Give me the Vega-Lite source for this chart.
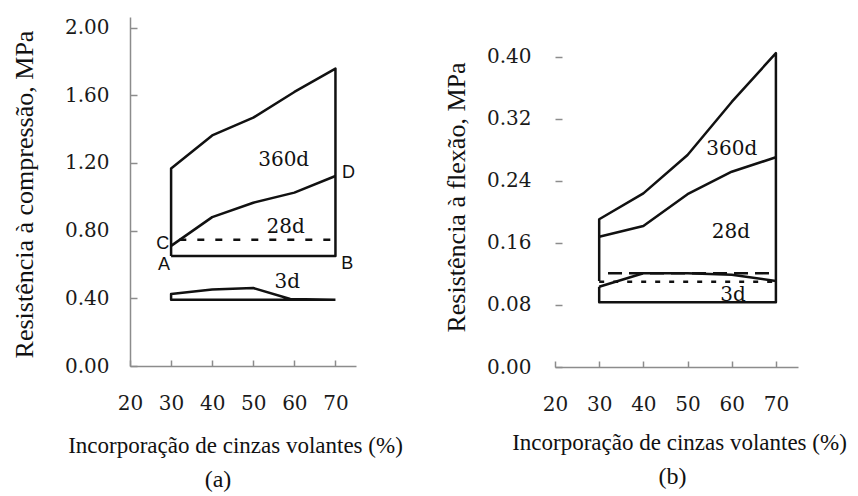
{
  "$schema": "https://vega.github.io/schema/vega-lite/v6.json",
  "background": "white",
  "padding": {"left": 10, "top": 17, "right": 5, "bottom": 5},
  "bounds": "flush",
  "spacing": 199,
  "config": {
    "view": {"stroke": null},
    "axis": {
      "grid": false,
      "labelFlush": false,
      "labelOverlap": false,
      "domainColor": "#8c8c8c",
      "domainWidth": 1.5,
      "tickColor": "#8c8c8c",
      "tickWidth": 1.5,
      "labelFont": "DejaVu Serif",
      "labelFontSize": 20,
      "labelColor": "#1a1a1a",
      "titleFont": "Liberation Serif",
      "titleFontWeight": "normal",
      "titleColor": "#111111"
    },
    "axisX": {"tickSize": -6, "labelPadding": 33, "titleFontSize": 23, "titleBaseline": "middle"},
    "axisY": {"tickSize": -7, "labelPadding": 28, "titleFontSize": 26, "titleBaseline": "middle"},
    "title": {"font": "Liberation Serif", "fontSize": 24, "fontWeight": "normal", "color": "#111111", "orient": "bottom"}
  },
  "datasets": {
    "a_lines": [
      {"seg": "box360", "style": "solid", "i": 0, "x": 30, "y": 0.65},
      {"seg": "box360", "style": "solid", "i": 1, "x": 30, "y": 1.167},
      {"seg": "box360", "style": "solid", "i": 2, "x": 40, "y": 1.363},
      {"seg": "box360", "style": "solid", "i": 3, "x": 50, "y": 1.468},
      {"seg": "box360", "style": "solid", "i": 4, "x": 60, "y": 1.62},
      {"seg": "box360", "style": "solid", "i": 5, "x": 70, "y": 1.758},
      {"seg": "box360", "style": "solid", "i": 6, "x": 70, "y": 0.65},
      {"seg": "box360", "style": "solid", "i": 7, "x": 30, "y": 0.65},
      {"seg": "c28", "style": "solid", "i": 0, "x": 30, "y": 0.71},
      {"seg": "c28", "style": "solid", "i": 1, "x": 40, "y": 0.88},
      {"seg": "c28", "style": "solid", "i": 2, "x": 50, "y": 0.965},
      {"seg": "c28", "style": "solid", "i": 3, "x": 60, "y": 1.025},
      {"seg": "c28", "style": "solid", "i": 4, "x": 70, "y": 1.123},
      {"seg": "d28", "style": "dash", "i": 0, "x": 32, "y": 0.747},
      {"seg": "d28", "style": "dash", "i": 1, "x": 70, "y": 0.747},
      {"seg": "s3", "style": "solid", "i": 0, "x": 70, "y": 0.392},
      {"seg": "s3", "style": "solid", "i": 1, "x": 30, "y": 0.392},
      {"seg": "s3", "style": "solid", "i": 2, "x": 30, "y": 0.425},
      {"seg": "s3", "style": "solid", "i": 3, "x": 40, "y": 0.452},
      {"seg": "s3", "style": "solid", "i": 4, "x": 50, "y": 0.461},
      {"seg": "s3", "style": "solid", "i": 5, "x": 59, "y": 0.396},
      {"seg": "s3", "style": "solid", "i": 6, "x": 70, "y": 0.392}
    ],
    "a_labels": [
      {"label": "360d", "kind": "age", "x": 57.4, "y": 1.216},
      {"label": "28d", "kind": "age", "x": 57.9, "y": 0.82},
      {"label": "3d", "kind": "age", "x": 58.3, "y": 0.495},
      {"label": "D", "kind": "point", "x": 73.2, "y": 1.139},
      {"label": "C", "kind": "point", "x": 28.0, "y": 0.719},
      {"label": "A", "kind": "point", "x": 28.3, "y": 0.595},
      {"label": "B", "kind": "point", "x": 72.9, "y": 0.601}
    ],
    "b_lines": [
      {"seg": "box", "style": "solid", "i": 0, "x": 30, "y": 0.111},
      {"seg": "box", "style": "solid", "i": 1, "x": 30, "y": 0.1906},
      {"seg": "box", "style": "solid", "i": 2, "x": 40, "y": 0.224},
      {"seg": "box", "style": "solid", "i": 3, "x": 50, "y": 0.2735},
      {"seg": "box", "style": "solid", "i": 4, "x": 60, "y": 0.342},
      {"seg": "box", "style": "solid", "i": 5, "x": 70, "y": 0.405},
      {"seg": "box", "style": "solid", "i": 6, "x": 70, "y": 0.0835},
      {"seg": "box", "style": "solid", "i": 7, "x": 30, "y": 0.0835},
      {"seg": "box", "style": "solid", "i": 8, "x": 30, "y": 0.1036},
      {"seg": "c28", "style": "solid", "i": 0, "x": 30, "y": 0.168},
      {"seg": "c28", "style": "solid", "i": 1, "x": 40, "y": 0.182},
      {"seg": "c28", "style": "solid", "i": 2, "x": 50, "y": 0.223},
      {"seg": "c28", "style": "solid", "i": 3, "x": 60, "y": 0.252},
      {"seg": "c28", "style": "solid", "i": 4, "x": 70, "y": 0.2706},
      {"seg": "s3", "style": "solid", "i": 0, "x": 30, "y": 0.1036},
      {"seg": "s3", "style": "solid", "i": 1, "x": 40, "y": 0.121},
      {"seg": "s3", "style": "solid", "i": 2, "x": 50, "y": 0.121},
      {"seg": "s3", "style": "solid", "i": 3, "x": 60, "y": 0.119},
      {"seg": "s3", "style": "solid", "i": 4, "x": 70, "y": 0.111},
      {"seg": "long", "style": "long", "i": 0, "x": 32, "y": 0.121},
      {"seg": "long", "style": "long", "i": 1, "x": 70, "y": 0.121},
      {"seg": "dot", "style": "dot", "i": 0, "x": 30, "y": 0.110},
      {"seg": "dot", "style": "dot", "i": 1, "x": 70, "y": 0.110}
    ],
    "b_labels": [
      {"label": "360d", "x": 60.0, "y": 0.281},
      {"label": "28d", "x": 59.8, "y": 0.174},
      {"label": "3d", "x": 60.3, "y": 0.093}
    ]
  },
  "hconcat": [
    {
      "width": 226,
      "height": 349,
      "title": {"text": "(a)", "dx": -25, "offset": 11},
      "layer": [
        {
          "data": {"name": "a_lines"},
          "transform": [{"filter": "datum.style === 'solid'"}],
          "mark": {"type": "line", "color": "#111111", "strokeWidth": 2.5, "strokeJoin": "round"},
          "encoding": {
            "x": {
              "field": "x", "type": "quantitative",
              "scale": {"domain": [20, 75], "nice": false, "zero": false},
              "axis": {"values": [20, 30, 40, 50, 60, 70], "title": "Incorporação de cinzas volantes (%)", "titleX": 105, "titleY": 79}
            },
            "y": {
              "field": "y", "type": "quantitative",
              "scale": {"domain": [0, 2.063], "nice": false},
              "axis": {"values": [0, 0.4, 0.8, 1.2, 1.6, 2.0], "format": ".2f", "title": "Resistência à compressão, MPa", "titleX": -106, "titleY": 177}
            },
            "detail": {"field": "seg"},
            "order": {"field": "i"}
          }
        },
        {
          "data": {"name": "a_lines"},
          "transform": [{"filter": "datum.style === 'dash'"}],
          "mark": {"type": "line", "color": "#111111", "strokeWidth": 2.5, "strokeDash": [7, 11]},
          "encoding": {
            "x": {"field": "x", "type": "quantitative"},
            "y": {"field": "y", "type": "quantitative"},
            "detail": {"field": "seg"},
            "order": {"field": "i"}
          }
        },
        {
          "data": {"name": "a_labels"},
          "transform": [{"filter": "datum.kind === 'age'"}],
          "mark": {"type": "text", "font": "DejaVu Serif", "fontSize": 20, "color": "#111111", "align": "center", "baseline": "middle"},
          "encoding": {
            "x": {"field": "x", "type": "quantitative"},
            "y": {"field": "y", "type": "quantitative"},
            "text": {"field": "label"}
          }
        },
        {
          "data": {"name": "a_labels"},
          "transform": [{"filter": "datum.kind === 'point'"}],
          "mark": {"type": "text", "font": "Liberation Sans", "fontSize": 18, "color": "#111111", "align": "center", "baseline": "middle"},
          "encoding": {
            "x": {"field": "x", "type": "quantitative"},
            "y": {"field": "y", "type": "quantitative"},
            "text": {"field": "label"}
          }
        }
      ]
    },
    {
      "width": 243,
      "height": 350,
      "title": {"text": "(b)", "dx": -4, "offset": 11},
      "layer": [
        {
          "mark": {"type": "rule", "color": "#8c8c8c", "strokeWidth": 1.5},
          "encoding": {
            "x": {"datum": 20, "type": "quantitative"},
            "y": {"datum": 0, "type": "quantitative"},
            "y2": {"datum": 0.4374}
          }
        },
        {
          "data": {"name": "b_lines"},
          "transform": [{"filter": "datum.style === 'solid'"}],
          "mark": {"type": "line", "color": "#111111", "strokeWidth": 2.5, "strokeJoin": "round"},
          "encoding": {
            "x": {
              "field": "x", "type": "quantitative",
              "scale": {"domain": [20, 75], "nice": false, "zero": false},
              "axis": {"values": [20, 30, 40, 50, 60, 70], "title": "Incorporação de cinzas volantes (%)", "titleX": 124, "titleY": 75}
            },
            "y": {
              "field": "y", "type": "quantitative",
              "scale": {"domain": [0, 0.4516], "nice": false},
              "axis": {"values": [0, 0.08, 0.16, 0.24, 0.32, 0.40], "format": ".2f", "domain": false, "labelPadding": 31, "title": "Resistência à flexão, MPa", "titleX": -99, "titleY": 180}
            },
            "detail": {"field": "seg"},
            "order": {"field": "i"}
          }
        },
        {
          "data": {"name": "b_lines"},
          "transform": [{"filter": "datum.style === 'long'"}],
          "mark": {"type": "line", "color": "#111111", "strokeWidth": 2.5, "strokeDash": [14, 7]},
          "encoding": {
            "x": {"field": "x", "type": "quantitative"},
            "y": {"field": "y", "type": "quantitative"},
            "detail": {"field": "seg"},
            "order": {"field": "i"}
          }
        },
        {
          "data": {"name": "b_lines"},
          "transform": [{"filter": "datum.style === 'dot'"}],
          "mark": {"type": "line", "color": "#111111", "strokeWidth": 2.5, "strokeDash": [5, 9]},
          "encoding": {
            "x": {"field": "x", "type": "quantitative"},
            "y": {"field": "y", "type": "quantitative"},
            "detail": {"field": "seg"},
            "order": {"field": "i"}
          }
        },
        {
          "data": {"name": "b_labels"},
          "mark": {"type": "text", "font": "DejaVu Serif", "fontSize": 20, "color": "#111111", "align": "center", "baseline": "middle"},
          "encoding": {
            "x": {"field": "x", "type": "quantitative"},
            "y": {"field": "y", "type": "quantitative"},
            "text": {"field": "label"}
          }
        }
      ]
    }
  ]
}
